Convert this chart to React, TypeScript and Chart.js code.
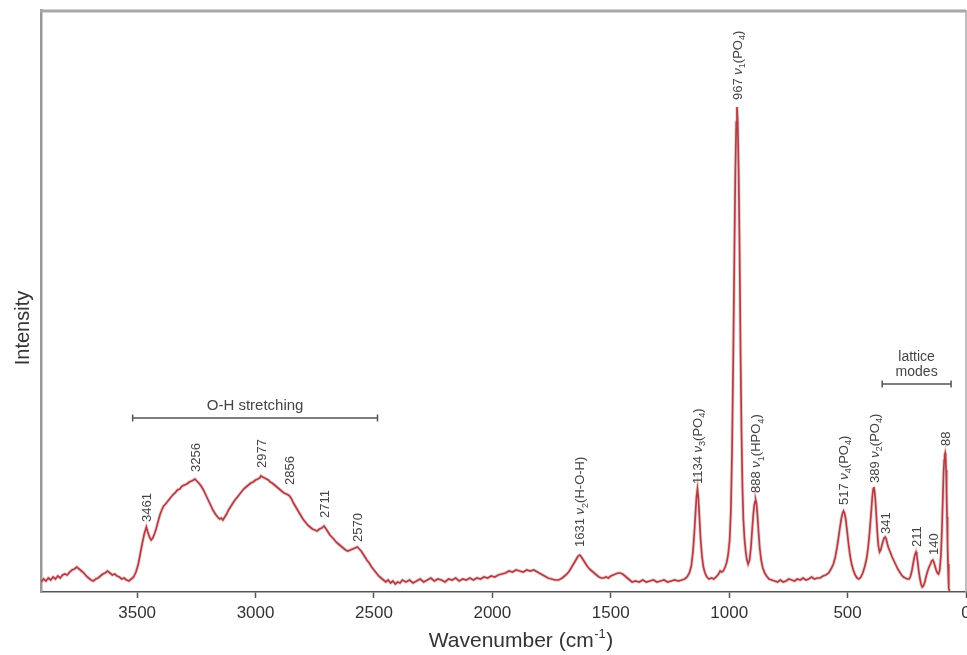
import React, { useEffect, useRef } from 'react';
import { Chart, registerables } from 'chart.js';

Chart.register(...registerables);

const FONT = '"Liberation Sans", Arial, Helvetica, sans-serif';

// Raman spectrum: [wavenumber (cm-1), intensity (a.u.)]
const spectrum: [number, number][] = [
  [3906,10],[3895,13],[3885,11],[3875,14],[3865,12],[3855,15],[3845,13],[3835,16],[3825,14],[3815,17],[3805,18],[3795,17],[3785,20],[3775,22],[3765,23],[3755,25],[3745,23],[3735,21],[3725,19],[3715,16],[3705,14],[3695,12],[3685,11],[3675,13],[3665,14],[3655,16],[3645,18],[3635,19],[3625,21],[3615,19],[3605,17],[3595,18],[3585,16],[3575,15],[3565,13],[3555,14],[3545,12],[3535,11],[3525,13],[3515,15],
  [3505,20],[3495,28],[3487,38],[3479,48],[3471,57],[3465,62],[3461,65],[3455,60],[3448,55],[3441,52],[3434,54],[3427,58],[3420,63],[3412,70],[3404,77],[3396,82],[3388,86],[3380,88],[3370,91],[3360,94],[3350,97],[3340,99],[3330,102],[3320,103],[3310,106],[3300,107],[3290,108],[3280,110],[3270,111],[3262,112],[3256,113],[3248,111],[3240,109],[3230,106],[3220,102],[3210,97],[3200,92],[3190,87],[3180,82],[3170,78],[3160,75],[3152,73],[3145,74],[3138,72],[3130,75],[3122,78],[3114,82],[3106,85],[3098,88],[3090,91],[3080,94],[3070,97],[3060,100],[3050,103],[3040,105],[3030,107],[3020,109],[3010,110],[3000,112],[2990,113],[2983,114],[2977,116],[2970,115],[2962,114],[2954,113],[2946,112],[2938,110],[2930,109],[2920,107],[2910,105],[2900,103],[2890,101],[2880,99],[2870,98],[2862,97],[2856,96],[2848,93],[2840,89],[2830,85],[2820,81],[2810,77],[2800,73],[2790,70],[2780,67],[2770,65],[2760,63],[2750,62],[2740,61],[2730,63],[2720,64],[2711,66],[2702,63],[2694,60],[2686,57],[2678,55],[2670,53],[2660,50],[2650,48],[2640,46],[2630,44],[2620,42],[2610,41],[2600,42],[2590,43],[2580,44],[2570,45],[2562,43],[2554,41],[2546,38],[2538,35],[2530,32],[2520,29],[2510,25],[2500,22],[2490,19],[2480,16],[2470,14],[2460,12],[2450,10],[2440,12],[2430,9],[2420,11],[2410,8],[2400,10],[2390,9],[2380,12],
  [2365,10],[2350,12],[2335,9],[2320,11],[2305,13],[2290,10],[2275,12],[2260,14],[2245,11],[2230,13],[2215,12],[2200,10],[2185,13],[2170,12],[2155,14],[2140,11],[2125,13],[2110,12],[2095,14],[2080,12],[2065,14],[2050,13],[2035,15],[2020,14],[2005,16],[1990,15],[1975,17],[1960,18],[1945,19],[1930,21],[1915,20],[1900,22],[1885,21],[1870,20],[1855,22],[1840,21],[1825,22],[1810,20],[1795,18],[1780,16],[1765,14],[1750,13],[1735,12],[1720,12],[1705,14],[1695,16],[1685,18],[1675,21],[1665,25],[1655,29],[1645,33],[1638,36],[1631,37],[1624,35],[1616,32],[1608,29],[1600,26],[1590,23],[1580,21],[1570,19],[1560,17],[1550,15],[1540,14],[1530,14],[1520,15],[1510,14],[1500,16],[1490,17],[1480,18],[1470,19],[1460,19],[1450,18],[1440,16],[1430,14],[1420,12],[1410,10],[1395,11],[1380,10],[1365,12],[1350,10],[1335,11],[1320,12],[1305,10],[1290,11],[1275,12],[1260,10],[1245,11],[1230,12],[1215,11],[1200,12],
  [1188,13],[1178,15],[1168,19],[1160,26],[1153,40],[1147,60],[1142,80],[1138,95],[1134,103],[1130,94],[1126,76],[1121,54],[1115,36],[1109,25],[1102,19],[1094,15],[1085,13],[1075,14],[1065,13],[1055,15],[1045,18],[1038,21],[1032,20],[1025,21],[1017,25],[1010,30],[1004,38],[998,52],[993,80],[988,140],[983,230],[978,340],[974,420],[970,470],[967,485],[964,470],[960,420],[956,340],[952,240],[948,160],[944,105],[940,72],[935,52],[930,40],[925,32],[920,28],[914,32],[908,45],[903,62],[898,78],[894,87],[890,91],[888,92],[885,89],[881,78],[876,60],[871,44],[865,32],[858,24],[850,19],[842,16],[832,13],[820,12],[808,11],[796,10],[784,12],[772,10],[760,11],[748,13],[736,12],[724,11],[712,13],[700,12],[688,14],[676,12],[664,13],[652,15],[640,13],[628,14],[616,14],[604,16],[592,17],[580,19],[570,23],[560,28],[552,35],[545,44],[538,55],[532,65],[526,74],[521,79],[517,81],[513,79],[508,73],[503,63],[497,50],[490,37],[483,28],[476,22],[468,17],[460,14],[452,13],[444,15],[436,19],[428,25],[420,33],[413,45],[407,60],[401,78],[396,94],[392,103],[389,105],[386,101],[382,90],[378,74],[374,58],[370,46],[365,40],[360,42],[355,47],[350,51],[346,54],[341,55],[337,53],[332,48],[327,44],[320,40],[312,35],[304,31],[296,27],[288,23],[280,20],[272,17],[264,15],[256,14],[248,13],[240,13],[234,16],[228,22],[222,30],[217,36],[213,39],[211,40],[208,37],[204,30],[200,22],[195,14],[190,8],[185,5],[180,6],[174,10],[168,16],[162,21],[156,25],[150,28],[145,31],[140,32],[136,30],[131,26],[126,22],[121,19],[116,18],[111,22],[106,36],[102,60],[98,92],[95,118],[92,132],[90,137],[88,139],[86,135],[84,122],[82,100],[80,75],[78,50],[76,28],[74,12],[72,4],[70,1],
];

const xTickValues = [0, 500, 1000, 1500, 2000, 2500, 3000, 3500];
const xMin = 0;
const xMax = 3906;
const yMin = 0;
const yMax = 582;

// Peak annotations ("_d" = subscript digit, ν drawn italic)
const peakPositions = [3461, 3256, 2977, 2856, 2711, 2570, 1631, 1134, 967, 888, 517, 389, 341, 211, 140, 88];
const peakLabels = ['3461', '3256', '2977', '2856', '2711', '2570', '1631', '1134', '967', '888', '517', '389', '341', '211', '140', '88'];
const peakModes = ['', '', '', '', '', '', 'ν_2(H-O-H)', 'ν_3(PO_4)', 'ν_1(PO_4)', 'ν_1(HPO_4)', 'ν_4(PO_4)', 'ν_2(PO_4)', '', '', '', ''];
const labelBases = [70, 120, 124, 107, 74, 50, 45, 108, 492, 99, 87, 109, 58, 45, 37, 146];

// Band brackets
const bandNames = [['O-H stretching'], ['lattice', 'modes']];
const bandStarts = [3519, 354];
const bandEnds = [2485, 63];
const bandLevels = [174, 208];

const xTitle = 'Wavenumber (cm';
const xTitleSup = '-1';
const yTitle = 'Intensity';

type Seg = { t: string; italic?: boolean; sub?: boolean };

function parseRich(text: string): Seg[] {
  const segs: Seg[] = [];
  let buf = '';
  for (let i = 0; i < text.length; i++) {
    const c = text[i];
    if (c === 'ν') {
      if (buf) segs.push({ t: buf });
      buf = '';
      segs.push({ t: 'ν', italic: true });
    } else if (c === '_' && i + 1 < text.length) {
      if (buf) segs.push({ t: buf });
      buf = '';
      segs.push({ t: text[i + 1], sub: true });
      i++;
    } else {
      buf += c;
    }
  }
  if (buf) segs.push({ t: buf });
  return segs;
}

function drawRich(ctx: CanvasRenderingContext2D, segs: Seg[], x: number, y: number, size: number) {
  let cx = x;
  for (const s of segs) {
    const fs = s.sub ? size * 0.7 : size;
    ctx.font = `${s.italic ? 'italic ' : ''}${fs}px ${FONT}`;
    ctx.fillText(s.t, cx, y + (s.sub ? size * 0.25 : 0));
    cx += ctx.measureText(s.t).width;
  }
}

const annotationPlugin = {
  id: 'ramanAnnotations',
  afterDraw(chart: any) {
    const { ctx, chartArea } = chart;
    const xs = chart.scales.x;
    const ys = chart.scales.y;
    ctx.save();

    // frame (top and right)
    ctx.strokeStyle = '#a8a8a8';
    ctx.lineWidth = 3;
    ctx.beginPath();
    ctx.moveTo(chartArea.left - 1, chartArea.top + 1);
    ctx.lineTo(chartArea.right, chartArea.top + 1);
    ctx.stroke();
    ctx.lineWidth = 1.5;
    ctx.beginPath();
    ctx.moveTo(chartArea.right, chartArea.top);
    ctx.lineTo(chartArea.right, chartArea.bottom);
    ctx.stroke();

    // peak labels
    ctx.fillStyle = '#444';
    ctx.textBaseline = 'alphabetic';
    ctx.textAlign = 'left';
    const size = 13;
    for (let i = 0; i < peakPositions.length; i++) {
      const px = xs.getPixelForValue(peakPositions[i]);
      const py = ys.getPixelForValue(labelBases[i]);
      const text = peakModes[i] ? `${peakLabels[i]} ${peakModes[i]}` : peakLabels[i];
      ctx.save();
      ctx.translate(px, py);
      ctx.rotate(-Math.PI / 2);
      drawRich(ctx, parseRich(text), 0, size * 0.36, size);
      ctx.restore();
    }

    // band brackets
    ctx.strokeStyle = '#555';
    ctx.lineWidth = 1.5;
    ctx.fillStyle = '#444';
    ctx.textAlign = 'center';
    for (let i = 0; i < bandNames.length; i++) {
      const x1 = xs.getPixelForValue(bandStarts[i]);
      const x2 = xs.getPixelForValue(bandEnds[i]);
      const by = ys.getPixelForValue(bandLevels[i]);
      ctx.beginPath();
      ctx.moveTo(x1, by);
      ctx.lineTo(x2, by);
      ctx.moveTo(x1, by - 3.5);
      ctx.lineTo(x1, by + 3.5);
      ctx.moveTo(x2, by - 3.5);
      ctx.lineTo(x2, by + 3.5);
      ctx.stroke();
      const lines = bandNames[i];
      const fs = lines.length > 1 ? 14 : 15;
      ctx.font = `${fs}px ${FONT}`;
      const cx = (x1 + x2) / 2;
      for (let j = 0; j < lines.length; j++) {
        const ty = by - 8 - (lines.length - 1 - j) * 15;
        ctx.fillText(lines[j], cx, ty);
      }
    }

    // axis titles
    ctx.fillStyle = '#333';
    ctx.font = `21px ${FONT}`;
    ctx.textAlign = 'left';
    const w1 = ctx.measureText(xTitle).width;
    ctx.font = `13px ${FONT}`;
    const w2 = ctx.measureText(xTitleSup).width;
    ctx.font = `21px ${FONT}`;
    const w3 = ctx.measureText(')').width;
    const total = w1 + w2 + w3 + 1;
    const tx = 521 - total / 2;
    const tyBase = 647;
    ctx.fillText(xTitle, tx, tyBase);
    ctx.font = `13px ${FONT}`;
    ctx.fillText(xTitleSup, tx + w1 + 0.5, tyBase - 9);
    ctx.font = `21px ${FONT}`;
    ctx.fillText(')', tx + w1 + w2 + 1, tyBase);

    ctx.save();
    ctx.translate(23, 328);
    ctx.rotate(-Math.PI / 2);
    ctx.textAlign = 'center';
    ctx.textBaseline = 'middle';
    ctx.font = `20px ${FONT}`;
    ctx.fillText(yTitle, 0, 0);
    ctx.restore();

    ctx.restore();
  },
};

export default function App() {
  const canvasRef = useRef<HTMLCanvasElement | null>(null);

  useEffect(() => {
    if (!canvasRef.current) return;
    const points = spectrum.map(([x, y]) => ({ x, y }));
    const chart = new Chart(canvasRef.current, {
      type: 'line',
      data: {
        datasets: [
          {
            data: points,
            borderColor: '#ad3f45',
            borderWidth: 1.7,
            pointRadius: 0,
            tension: 0,
            fill: false,
            order: 0,
          },
          {
            data: points,
            borderColor: 'rgba(210,120,125,0.35)',
            borderWidth: 3.6,
            pointRadius: 0,
            tension: 0,
            fill: false,
            order: 1,
          },
        ],
      },
      options: {
        animation: false,
        responsive: false,
        devicePixelRatio: 1,
        events: [],
        layout: { padding: { left: 0, top: 10, right: 1, bottom: 0 } },
        plugins: { legend: { display: false }, tooltip: { enabled: false }, title: { display: false } },
        scales: {
          x: {
            type: 'linear',
            reverse: true,
            min: xMin,
            max: xMax,
            afterBuildTicks: (scale: any) => {
              scale.ticks = xTickValues.map((v) => ({ value: v }));
            },
            afterFit: (scale: any) => {
              scale.height = 63;
              scale.paddingLeft = 0;
              scale.paddingRight = 0;
            },
            ticks: {
              autoSkip: false,
              maxRotation: 0,
              minRotation: 0,
              padding: 5,
              color: '#333',
              font: { family: FONT, size: 17 },
              callback: (v: any) => String(v),
            },
            grid: {
              display: true,
              drawOnChartArea: false,
              drawTicks: true,
              tickLength: 6,
              tickWidth: 1.5,
              tickColor: '#555',
            },
            border: { display: true, color: '#555', width: 1.5 },
            title: { display: false },
          },
          y: {
            type: 'linear',
            min: yMin,
            max: yMax,
            afterFit: (scale: any) => {
              scale.width = 41;
            },
            ticks: { display: false },
            grid: { display: false, drawTicks: false },
            border: { display: true, color: '#999', width: 2.5 },
            title: { display: false },
          },
        },
      },
      plugins: [annotationPlugin],
    });
    return () => chart.destroy();
  }, []);

  return (
    <div style={{ position: 'absolute', left: 0, top: 0, width: 967, height: 655, background: '#fff' }}>
      <canvas ref={canvasRef} width={967} height={655} style={{ display: 'block', width: 967, height: 655 }} />
    </div>
  );
}
